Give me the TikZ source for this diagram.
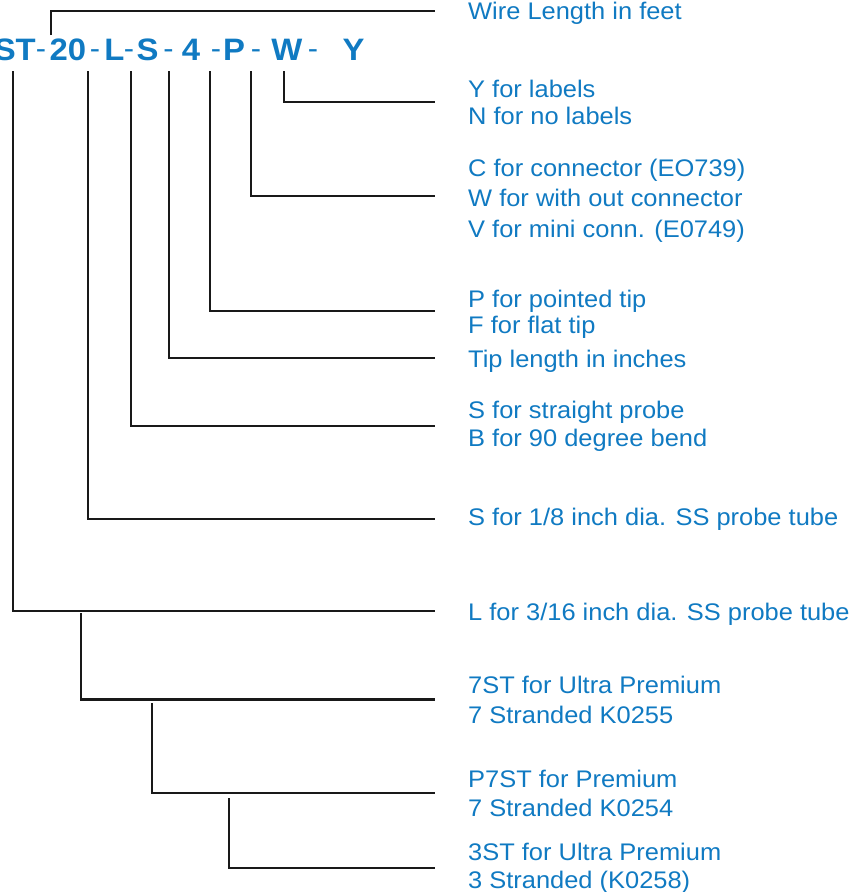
\documentclass[tikz,border=0pt]{standalone}
\usepackage{fontspec}
\setmainfont{Liberation Sans}[FakeStretch=1.06]
\definecolor{codeblue}{RGB}{16,122,194}
\tikzset{
  code/.style={anchor=base, inner sep=0pt, text=codeblue, font=\fontsize{31}{36}\selectfont\bfseries},
  hyph/.style={anchor=base, inner sep=0pt, text=codeblue, font=\fontsize{29}{34}\selectfont},
  lab/.style={anchor=base west, inner xsep=33pt, inner ysep=0pt, align=left, text=codeblue, font=\fontsize{24}{28}\selectfont},
  lead/.style={draw=black!90, line width=2.2pt}
}
\begin{document}
\begin{tikzpicture}[x=1pt, y=-1pt]
      \useasboundingbox (0,0) rectangle (857,892);
      \draw
        (36,60.5) node[code, anchor=base east] (st){7ST}
        (68,60.5) node[code] (n20){20}
        (114.5,60.5) node[code] (nL){L}
        (147.5,60.5) node[code] (nS){S}
        (191,60.5) node[code] (n4){4}
        (234,60.5) node[code] (nP){P}
        (287,60.5) node[code] (nW){W}
        (353.5,60.5) node[code] (nY){Y};
      \foreach \x [count=\i] in {41,95,129,168.5,216,256,313}
        \node[hyph] (h\i) at (\x,58) {-};
      \draw
        (435,19) node[lab] (wire){Wire Length in feet}
        (435,124) node[lab] (labels){Y for labels\\[-1pt]N for no labels}
        (435,237) node[lab] (conn){C for connector (EO739)\\[2pt]W for with out connector\\[3pt]V for mini conn. (E0749)}
        (435,333) node[lab] (tip){P for pointed tip\\[-2pt]F for flat tip}
        (435,367) node[lab] (tiplen){Tip length in inches}
        (435,446) node[lab] (bend){S for straight probe\\B for 90 degree bend}
        (435,525) node[lab] (eighth){S for 1/8 inch dia. SS probe tube}
        (435,620) node[lab] (sixteenth){L for 3/16 inch dia. SS probe tube}
        (435,723) node[lab] (ultra7){7ST for Ultra Premium\\[2pt]7 Stranded K0255}
        (435,816) node[lab] (prem7){P7ST for Premium\\[1pt]7 Stranded K0254}
        (435,888) node[lab] (ultra3){3ST for Ultra Premium\\3 Stranded (K0258)};
      \coordinate (t20) at (51,35);
      \coordinate (dW) at (284,71);
      \coordinate (dP) at (251,71);
      \coordinate (d4) at (210,71);
      \coordinate (dS) at (169,71);
      \coordinate (dL) at (131,71);
      \coordinate (d20) at (88,71);
      \coordinate (dST) at (13,71);
      \coordinate (b1) at (81,613);
      \coordinate (b2) at (152,703);
      \coordinate (b3) at (229,798);
      \begin{scope}[lead]
        \draw (t20) |- ([yshift=1.5pt]wire.west);
        \draw (dW) |- (labels.west);
        \draw (dP) |- ([yshift=4pt]conn.west);
        \draw (d4) |- ([yshift=3pt]tip.west);
        \draw (dS) |- ([yshift=3pt]tiplen.west);
        \draw (dL) |- (bend.west);
        \draw (d20) |- (eighth.west);
        \draw (dST) |- ([yshift=3pt]sixteenth.west);
        \draw (b1) |- (ultra7.west);
        \draw (b2) |- (prem7.west);
        \draw (b3) |- (ultra3.west);
      \end{scope}
    \end{tikzpicture}
\end{document}
